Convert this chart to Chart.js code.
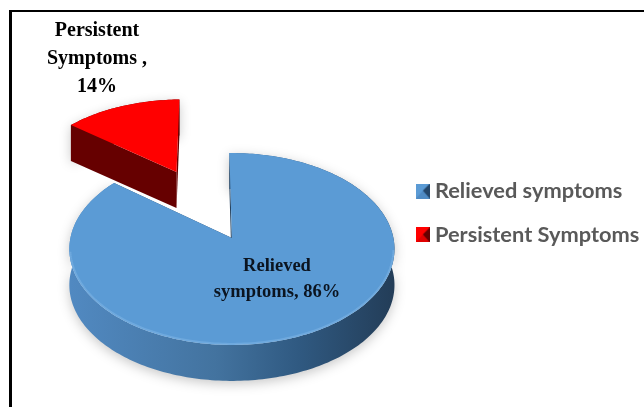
<!DOCTYPE html>
<html lang="en">

<head>
    <meta charset="UTF-8">
    <title>Symptoms pie</title>
    <script src="https://cdn.jsdelivr.net/npm/chart.js"></script>
    <style>
        * {
            margin: 0;
            padding: 0;
            box-sizing: border-box;
        }

        body {
            background-color: #ffffff;
            width: 644px;
            height: 407px;
            overflow: hidden;
            position: relative;
        }

        /* only the top and left rules are inside the crop */
        .frame {
            position: absolute;
            left: 9px;
            top: 10px;
            width: 635px;
            height: 397px;
            border-top: 2px solid #000000;
            border-left: 3px solid #000000;
        }

        canvas {
            position: absolute;
            left: 0;
            top: 0;
        }
    </style>
</head>

<body>
    <div class="frame"></div>
    <canvas id="pie" width="644" height="407"></canvas>

    <script>
        const categories = ['Relieved symptoms', 'Persistent Symptoms'];
        const percents = [86, 14];
        const sliceColors = ['#5B9BD5', '#FF0000'];
        const sliceLabels = [
            ['Relieved', 'symptoms, ' + percents[0] + '%'],
            ['Persistent', 'Symptoms ,', percents[1] + '%']
        ];

        // fake 3D look
        const squash = 0.586;
        const persp = 0.1146;
        const depth = 36;
        const explode = [0, 0.845];

        function project(arc, u, v) {
            const w = 1 - persp * v;
            return {
                x: arc.x + arc.outerRadius * u / w,
                y: arc.y + arc.outerRadius * squash * v / w
            };
        }

        // projected outline of one slice: apex first, then the rim
        function outline(arc, i) {
            const mid = (arc.startAngle + arc.endAngle) / 2;
            const ox = explode[i] * Math.cos(mid);
            const oy = explode[i] * Math.sin(mid);
            const rim = [];
            const steps = Math.ceil((arc.endAngle - arc.startAngle) / 0.02);
            for (let s = 0; s <= steps; s++) {
                const a = arc.startAngle + (arc.endAngle - arc.startAngle) * s / steps;
                rim.push(project(arc, ox + Math.cos(a), oy + Math.sin(a)));
            }
            return { apex: project(arc, ox, oy), rim: rim };
        }

        function poly(ctx, pts) {
            ctx.beginPath();
            pts.forEach((p, n) => n ? ctx.lineTo(p.x, p.y) : ctx.moveTo(p.x, p.y));
            ctx.closePath();
        }

        function drop(pts) {
            return pts.map(p => ({ x: p.x, y: p.y + depth })).reverse();
        }

        function wallFill(ctx, i, arc) {
            if (i === 1) return '#660000';
            const g = ctx.createLinearGradient(arc.x - arc.outerRadius, 0, arc.x + arc.outerRadius, 0);
            g.addColorStop(0, '#5189c1');
            g.addColorStop(0.45, '#43739f');
            g.addColorStop(0.7, '#305a82');
            g.addColorStop(1, '#233d58');
            return g;
        }

        const pie3d = {
            id: 'pie3d',
            beforeDatasetsDraw(chart) {
                const ctx = chart.ctx;
                const arcs = chart.getDatasetMeta(0).data;
                // red goes first, the blue top face sits over its wall
                [1, 0].forEach(i => {
                    const arc = arcs[i];
                    const o = outline(arc, i);
                    const first = o.rim[0];
                    const last = o.rim[o.rim.length - 1];
                    const fill = wallFill(ctx, i, arc);

                    ctx.save();
                    ctx.shadowColor = 'rgba(0,0,0,0.22)';
                    ctx.shadowBlur = 12;
                    ctx.shadowOffsetY = 3;
                    ctx.fillStyle = fill;
                    poly(ctx, o.rim.concat(drop(o.rim)));
                    ctx.fill();
                    ctx.restore();

                    ctx.fillStyle = i === 0 ? '#27435f' : fill;
                    poly(ctx, [o.apex, first].concat(drop([o.apex, first])));
                    ctx.fill();
                    poly(ctx, [o.apex, last].concat(drop([o.apex, last])));
                    ctx.fill();

                    ctx.fillStyle = arc.options.backgroundColor;
                    poly(ctx, [o.apex].concat(o.rim));
                    ctx.fill();

                    if (i === 0) {
                        // lighter bevel along the front of the rim
                        ctx.save();
                        poly(ctx, [o.apex].concat(o.rim));
                        ctx.clip();
                        ctx.strokeStyle = 'rgba(140,190,235,0.4)';
                        ctx.lineWidth = 4;
                        ctx.beginPath();
                        o.rim.filter(p => p.y > arc.y + 12).forEach((p, n) => n ? ctx.lineTo(p.x, p.y) : ctx.moveTo(p.x, p.y));
                        ctx.stroke();
                        ctx.restore();
                    }
                });
                return false;
            },
            afterDraw(chart) {
                const ctx = chart.ctx;
                ctx.save();
                ctx.textAlign = 'center';
                ctx.textBaseline = 'middle';
                ctx.font = 'bold 18.5px "Liberation Serif"';
                ctx.fillStyle = '#0b1420';
                sliceLabels[0].forEach((line, n) => ctx.fillText(line, 277, 266 + n * 26));
                ctx.font = 'bold 20px "Liberation Serif"';
                ctx.fillStyle = '#000000';
                sliceLabels[1].forEach((line, n) => ctx.fillText(line, 97, 31 + n * 28));
                ctx.restore();
            },
            afterLayout(chart) {
                chart.legend.top -= 25;
                chart.legend.bottom -= 25;
                chart.legend.left += 5.3;
            }
        };

        // bevelled little legend squares
        function swatch(light, mid, dark) {
            const c = document.createElement('canvas');
            c.width = 14;
            c.height = 15;
            const g = c.getContext('2d');
            g.fillStyle = mid;
            g.fillRect(0, 0, 14, 15);
            g.fillStyle = light;
            g.beginPath();
            g.moveTo(0, 0);
            g.lineTo(14, 0);
            g.lineTo(7, 7);
            g.lineTo(0, 15);
            g.closePath();
            g.fill();
            g.fillStyle = dark;
            g.beginPath();
            g.moveTo(14, 0);
            g.lineTo(14, 15);
            g.lineTo(7, 7);
            g.closePath();
            g.fill();
            return c;
        }
        const swatches = [swatch('#5b9bd5', '#4f8bc4', '#24476b'), swatch('#ff0000', '#e00000', '#660000')];

        new Chart(document.getElementById('pie'), {
            type: 'pie',
            data: {
                labels: categories,
                datasets: [{
                    data: percents,
                    backgroundColor: sliceColors,
                    borderWidth: 0
                }]
            },
            plugins: [pie3d],
            options: {
                responsive: false,
                animation: false,
                rotation: -1,
                layout: {
                    padding: { left: 69.5, right: 0, top: 76.5, bottom: 7.5 }
                },
                plugins: {
                    tooltip: { enabled: false },
                    legend: {
                        position: 'right',
                        maxWidth: 251.5,
                        labels: {
                            usePointStyle: true,
                            pointStyleWidth: 2.4,
                            color: '#595959',
                            padding: 22,
                            font: { family: 'Lato', size: 21.8, weight: 'bold' },
                            generateLabels(chart) {
                                const items = Chart.overrides.pie.plugins.legend.labels.generateLabels(chart);
                                items.forEach((it, i) => { it.pointStyle = swatches[i]; });
                                return items;
                            }
                        }
                    }
                }
            }
        });
    </script>
</body>

</html>
